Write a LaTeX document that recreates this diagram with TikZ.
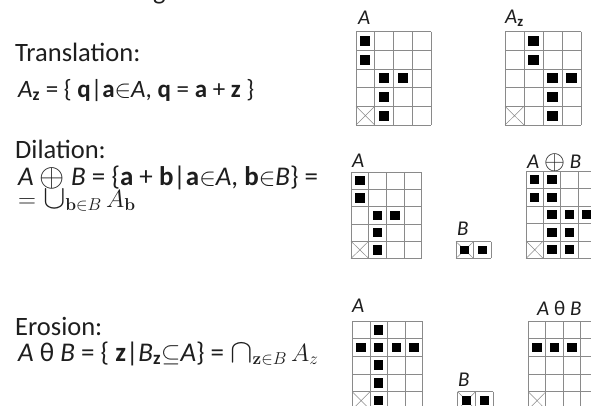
\documentclass[tikz,border=0pt]{standalone}
\usepackage{amsmath}
\usepackage{exscale}
\usepackage{graphicx}
\usepackage[no-math]{fontspec}
\setmainfont{Carlito}
\definecolor{txt}{HTML}{1E1E1E}
\definecolor{gline}{HTML}{8A8A8A}
\tikzset{
  gridline/.style={draw=gline, line width=0.7pt},
  crossline/.style={draw=gline, line width=0.5pt},
  pix/.style={fill=black},
  title/.style={anchor=base west, inner sep=0pt, text=txt, font=\fontsize{26.5}{30}\selectfont},
  formula/.style={anchor=base west, inner sep=0pt, text=txt, font=\fontsize{27}{30}\selectfont},
  glabel/.style={anchor=base west, inner sep=0pt, text=txt, font=\fontsize{21}{24}\selectfont\itshape},
}
\newcommand{\myop}[1]{\mathop{\vphantom{A}\smash{\raisebox{-0.1ex}{\scalebox{1.35}{$#1$}}}}\nolimits}
\newcommand{\myoplus}{\raisebox{-0.1ex}{\scalebox{1.3}{$\oplus$}}}
% #1 x0, #2 y0, #3 cell w, #4 cell h, #5 cols, #6 rows, #7 filled cells c/r, #8 crossed cells c/r
\newcommand{\mgrid}[8]{%
  \begin{scope}[shift={(#1,#2)}, x=#3pt, y=-#4pt]
    \foreach \c/\r in {#8} {\draw[crossline] (\c,\r) -- (\c+1,\r+1) (\c+1,\r) -- (\c,\r+1);}
    \foreach \i in {0,...,#5} {\draw[gridline] (\i,0) -- (\i,#6);}
    \foreach \j in {0,...,#6} {\draw[gridline] (0,\j) -- (#5,\j);}
    \foreach \c/\r in {#7} {\fill[pix] (\c+0.23,\r+0.23) rectangle (\c+0.77,\r+0.77);}
  \end{scope}}
\begin{document}
\begin{tikzpicture}[x=1pt,y=-1pt]
\useasboundingbox[fill=white] (0,0) rectangle (591,405);
\clip (0,0) rectangle (591,405);

% cut-off title fragment
\node[title] (gfrag) at (153,-1) {g};

% Translation
\node[title] (ttrans) at (15,61) {Translation:};
\node[formula, font=\fontsize{25}{28}\selectfont] (ftrans) at (18,97) {\textit{A}\textsubscript{\textbf{z}} = \{ \textbf{q}|\textbf{a}$\in$\textit{A}, \textbf{q} = \textbf{a} + \textbf{z} \}};
\node[glabel] (lA1) at (358,24) {A};
\node[glabel] (lAz) at (505,23) {A\textsubscript{\upshape\bfseries z}};
\mgrid{356}{31.7}{18.75}{18.66}{4}{5}{0/0,0/1,1/2,2/2,1/3,1/4}{0/4}
\mgrid{505}{31.7}{19}{18.66}{4}{5}{1/0,1/1,2/2,3/2,2/3,2/4}{0/4}

% Dilation
\node[title] (tdil) at (15,158) {Dilation:};
\node[formula] (fdil1) at (18,185) {\textit{A} \myoplus{} \textit{B} = \{\textbf{a} + \textbf{b}|\textbf{a}$\in$\textit{A}, \textbf{b}$\in$\textit{B}\} =};
\node[formula] (fdil2) at (18,207) {$= \myop{\cup}_{\mathbf{b}\in B} A_{\mathbf{b}}$};
\node[glabel] (lA2) at (352,167) {A};
\node[glabel] (lB2) at (457,235) {B};
\node[glabel] (lAB2) at (527,168) {A \myoplus{} B};
\mgrid{351}{172}{17.7}{17.3}{4}{5}{0/0,0/1,1/2,2/2,1/3,1/4}{0/4}
\mgrid{456}{241.7}{17.5}{16.6}{2}{1}{0/0,1/0}{0/0}
\mgrid{526}{171}{17.3}{17.5}{4}{5}{0/0,1/0,0/1,1/1,1/2,2/2,3/2,1/3,2/3,1/4,2/4}{0/4}

% Erosion
\node[title] (tero) at (15,335) {Erosion:};
\node[formula] (fero) at (18,361) {\textit{A} θ \textit{B} = \{ \textbf{z}|\textit{B}\textsubscript{\textbf{z}}$\subseteq$\textit{A}\} = $\myop{\cap}_{\mathbf{z}\in B} A_{z}$};
\node[glabel] (lA3) at (352,312) {A};
\node[glabel] (lB3) at (458,386) {B};
\node[glabel] (lAB3) at (537,315) {A {\upshape θ} B};
\mgrid{352.3}{321}{17.6}{17.7}{4}{5}{1/0,0/1,1/1,2/1,3/1,1/2,1/3,1/4}{0/4}
\mgrid{457.7}{391.7}{17.8}{17.7}{2}{1}{0/0,1/0}{0/0}
\mgrid{528.3}{321}{17.5}{17.7}{4}{5}{0/1,1/1,2/1}{0/4}
\end{tikzpicture}
\end{document}
